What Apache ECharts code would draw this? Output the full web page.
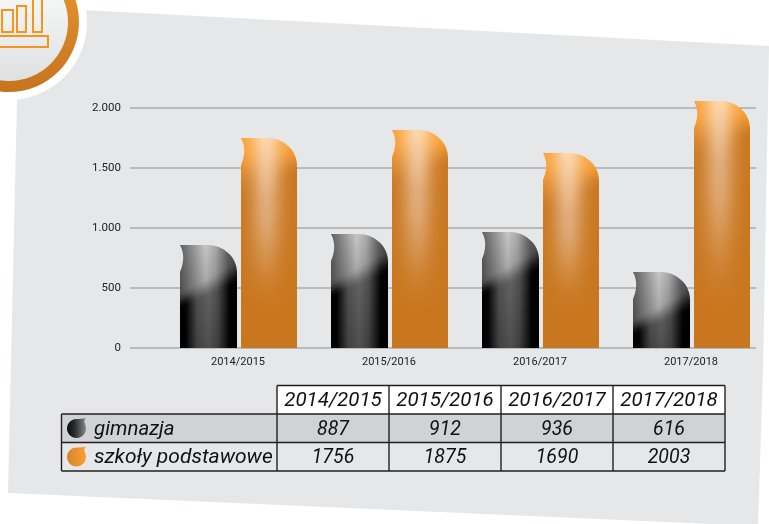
<!DOCTYPE html>
<html><head><meta charset="utf-8">
<style>html,body{margin:0;padding:0;background:#fff}#c{width:769px;height:524px}</style>
<script src="https://cdn.jsdelivr.net/npm/echarts@6/dist/echarts.min.js"></script>
</head><body><div id="c"></div>
<script>
// Table values as printed in the reference
const categories = ['2014/2015','2015/2016','2016/2017','2017/2018'];
const seriesNames = ['gimnazja','szkoły podstawowe'];
const tableGimnazja = [887,912,936,616];
const tablePodstawowe = [1756,1875,1690,2003];
// Bar heights (the drawn bars differ slightly from the table)
const barsGimnazja = [858,950,967,633];
const barsPodstawowe = [1750,1817,1625,2058];
const yTicks = {min:0,max:2000,interval:500};

const chart = echarts.init(document.getElementById('c'),null,{renderer:'canvas'});
const FONT='Roboto';

function hGrad(stops){return {type:'linear',x:0,y:0,x2:1,y2:0,colorStops:stops.map(s=>({offset:s[0],color:s[1]}))};}
function fullPath(x0,x1,t,b){
  return `M${x0} ${t} L${x1-29} ${t} C${x1-14} ${t} ${x1} ${t+12} ${x1} ${t+27} L${x1} ${b} L${x0} ${b} L${x0} ${t+27} C${x0+3.5} ${t+19} ${x0+5} ${t+9} ${x0} ${t} Z`;
}
// Shading helpers for the glossy bar fill
const clamp=(v,a,b)=>Math.max(a,Math.min(b,v));
const sstep=(a,b,v)=>{const k=clamp((v-a)/(b-a),0,1);return k*k*(3-2*k);};
const mix=(c1,c2,k)=>[0,1,2].map(i=>c1[i]+(c2[i]-c1[i])*k);
function ramp(stops,u){
  for(let i=1;i<stops.length;i++){
    if(u<=stops[i][0]){
      const k=(u-stops[i-1][0])/(stops[i][0]-stops[i-1][0]);
      return stops[i-1][1]+(stops[i][1]-stops[i-1][1])*k;
    }
  }
  return stops[stops.length-1][1];
}
const lowerGray=[[0,0],[0.1,2],[0.3,92],[0.5,112],[0.66,88],[0.87,3],[1,0]];
const upperGray=[[0,95],[0.15,128],[0.45,198],[0.62,170],[0.85,92],[1,70]];
function blackPixel(u,dy,h){
  const b=Math.min(58-24*u,h);
  const s=sstep(b-12-8*u,b+6,dy);
  const up=ramp(upperGray,u)*(1-0.22*clamp(dy/55,0,1));
  const lo=ramp(lowerGray,u)*(1-0.3*clamp(dy/h,0,1));
  const g=up+(lo-up)*s;
  return [g,g,g];
}
const O_TOP=[251,159,51], O_LOW=[201,119,31], O_HL=[253,216,172], O_HL2=[224,172,122];
function orangePixel(u,dy,h){
  const b=58-22*u;
  const s=sstep(6,b,dy);
  const base=mix(O_TOP,O_LOW,s);
  const hl=mix(O_HL,O_HL2,clamp(dy/60,0,1));
  const d=(u-0.45)/0.27;
  const g=Math.exp(-d*d);
  const a=dy<=60?1:1-sstep(60,Math.max(h-35,90),dy);
  return mix(base,hl,g*a);
}
// One smooth texture per bar, sized from the bar's own scale-derived size
function texture(w,h,pixel){
  const cv=document.createElement('canvas');
  cv.width=w;cv.height=h;
  const ctx=cv.getContext('2d');
  const img=ctx.createImageData(w,h);
  for(let y=0;y<h;y++)for(let x=0;x<w;x++){
    const c=pixel((x+0.5)/w,y,h),i=(y*w+x)*4;
    img.data[i]=c[0];img.data[i+1]=c[1];img.data[i+2]=c[2];img.data[i+3]=255;
  }
  ctx.putImageData(img,0,0);
  return cv;
}
function renderBar(kind){
  return function(params,api){
    const cat=api.value(0), val=api.value(1);
    const p=api.coord([cat,val]), base=api.coord([cat,0]);
    const band=api.size([1,0])[0];
    const cx=p[0], t=Math.round(p[1]), b=Math.round(base[1]);
    const off=kind==='g'?[-0.383,-0.007]:[0.017,0.389];
    const x0=Math.round(cx+off[0]*band), x1=Math.round(cx+off[1]*band), w=x1-x0, h=b-t;
    const tex=texture(w,h,kind==='g'?blackPixel:orangePixel);
    return {type:'path',shape:{pathData:fullPath(x0,x1,t,b),x:x0,y:t,width:w,height:h},
      style:{fill:{image:tex,repeat:'no-repeat',x:x0,y:t}}};
  };
}

// Decoration and table, built from the arrays above
const graphics=[];
graphics.push({type:'polygon',z:-20,shape:{points:[[83,10],[769,46],[763,370],[758,526],[8,493],[17,100]]},style:{fill:'#e6e7e8'}});
graphics.push({type:'circle',z:-19,shape:{cx:9,cy:22,r:78},style:{fill:'#fff'}});
graphics.push({type:'circle',z:-18,shape:{cx:9,cy:22,r:70},style:{fill:{type:'linear',x:0,y:0,x2:0,y2:1,colorStops:[{offset:0,color:'#ee9a32'},{offset:1,color:'#c5741f'}]}}});
graphics.push({type:'circle',z:-17,shape:{cx:9,cy:22,r:59},style:{fill:{type:'linear',x:0,y:0,x2:0,y2:1,colorStops:[{offset:0,color:'#ffffff'},{offset:1,color:'#dfe0e1'}]}}});
[[-6,36,54,11],[2,10,11,22],[17,6,9,26],[33,-4,9,36]].forEach(r=>{
  graphics.push({type:'rect',z:-16,shape:{x:r[0],y:r[1],width:r[2],height:r[3]},style:{fill:'none',stroke:'#f7941d',lineWidth:2}});
});

const colX=[61.5,277,389,501,613,725];
const rowY=[385.5,414,442.5,471];
const LINE='#231f20';
graphics.push({type:'rect',z:5,shape:{x:colX[1],y:rowY[0],width:colX[5]-colX[1],height:rowY[1]-rowY[0]},style:{fill:'#fff'}});
graphics.push({type:'rect',z:5,shape:{x:colX[0],y:rowY[1],width:colX[5]-colX[0],height:rowY[2]-rowY[1]},style:{fill:'#d1d2d4'}});
function ln(x1,y1,x2,y2){graphics.push({type:'line',z:6,shape:{x1,y1,x2,y2},style:{stroke:LINE,lineWidth:1.4}});}
ln(colX[1],rowY[0],colX[5],rowY[0]);
ln(colX[0],rowY[1],colX[5],rowY[1]);
ln(colX[0],rowY[2],colX[5],rowY[2]);
ln(colX[0],rowY[3],colX[5],rowY[3]);
ln(colX[0],rowY[1],colX[0],rowY[3]);
for(let i=1;i<6;i++) ln(colX[i],rowY[0],colX[i],rowY[3]);
function txt(s,x,y,size,align){graphics.push({type:'text',z:7,x:x,y:y,style:{text:String(s),font:`italic 400 ${size}px ${FONT}`,fill:'#111',align:align,verticalAlign:'middle'}});}
categories.forEach((c,i)=>{
  const mx=(colX[i+1]+colX[i+2])/2;
  txt(c,mx,rowY[0]+15.5,20.5,'center');
  txt(tableGimnazja[i],mx,rowY[1]+16,19.5,'center');
  txt(tablePodstawowe[i],mx,rowY[2]+15.5,19.5,'center');
});
txt(seriesNames[0],94,rowY[1]+16,20.5,'left');
txt(seriesNames[1],94,rowY[2]+15.5,21,'left');
// Legend icon: a teardrop with its pointed tip at the top right
function leaf(x,y,s){
  const r=s/2, cx=x+r, cy=y+r+0.5, pts=[];
  for(let a=-15;a<=255;a+=15){
    const rad=a*Math.PI/180;
    pts.push([cx+r*Math.cos(rad),cy+r*Math.sin(rad)]);
  }
  pts.push([x+s-4,y+0.3]);
  pts.push([x+s-0.5,y-0.5]);
  pts.push([x+s-1.8,y+3]);
  return pts;
}
graphics.push({type:'polygon',z:7,shape:{points:leaf(67,418.5,19)},style:{fill:hGrad([[0,'#0a0a0a'],[0.4,'#2c2c2c'],[1,'#85868a'] ])}});
graphics.push({type:'polygon',z:7,shape:{points:leaf(67,447,19)},style:{fill:hGrad([[0,'#d6832a'],[1,'#fba035']])}});

chart.setOption({
  animation:false,
  backgroundColor:'#fff',
  graphic:{elements:graphics},
  grid:[
    {left:130,top:108,width:626,height:240},
    {left:162.5,top:108,width:604,height:240}
  ],
  xAxis:[
    {type:'category',gridIndex:0,data:categories,show:false},
    {type:'category',gridIndex:1,data:categories,axisLine:{show:false},axisTick:{show:false},
     axisLabel:{color:'#222',fontFamily:FONT,fontSize:11,margin:9}}
  ],
  yAxis:[
    {type:'value',gridIndex:0,min:yTicks.min,max:yTicks.max,interval:yTicks.interval,
     axisLine:{show:false},axisTick:{show:false},
     axisLabel:{color:'#222',fontFamily:FONT,fontSize:11.5,margin:9,
       formatter:v=>v>=1000?Math.floor(v/1000)+'.'+String(v%1000).padStart(3,'0'):String(v)},
     splitLine:{show:true,lineStyle:{color:'#a9abae',width:1.5}}},
    {type:'value',gridIndex:1,min:yTicks.min,max:yTicks.max,interval:yTicks.interval,show:false}
  ],
  series:[
    {type:'custom',name:seriesNames[0],xAxisIndex:1,yAxisIndex:1,z:3,clip:false,renderItem:renderBar('g'),
     encode:{x:0,y:1},data:categories.map((c,i)=>[i,barsGimnazja[i]])},
    {type:'custom',name:seriesNames[1],xAxisIndex:1,yAxisIndex:1,z:3,clip:false,renderItem:renderBar('o'),
     encode:{x:0,y:1},data:categories.map((c,i)=>[i,barsPodstawowe[i]])}
  ]
});
</script></body></html>
